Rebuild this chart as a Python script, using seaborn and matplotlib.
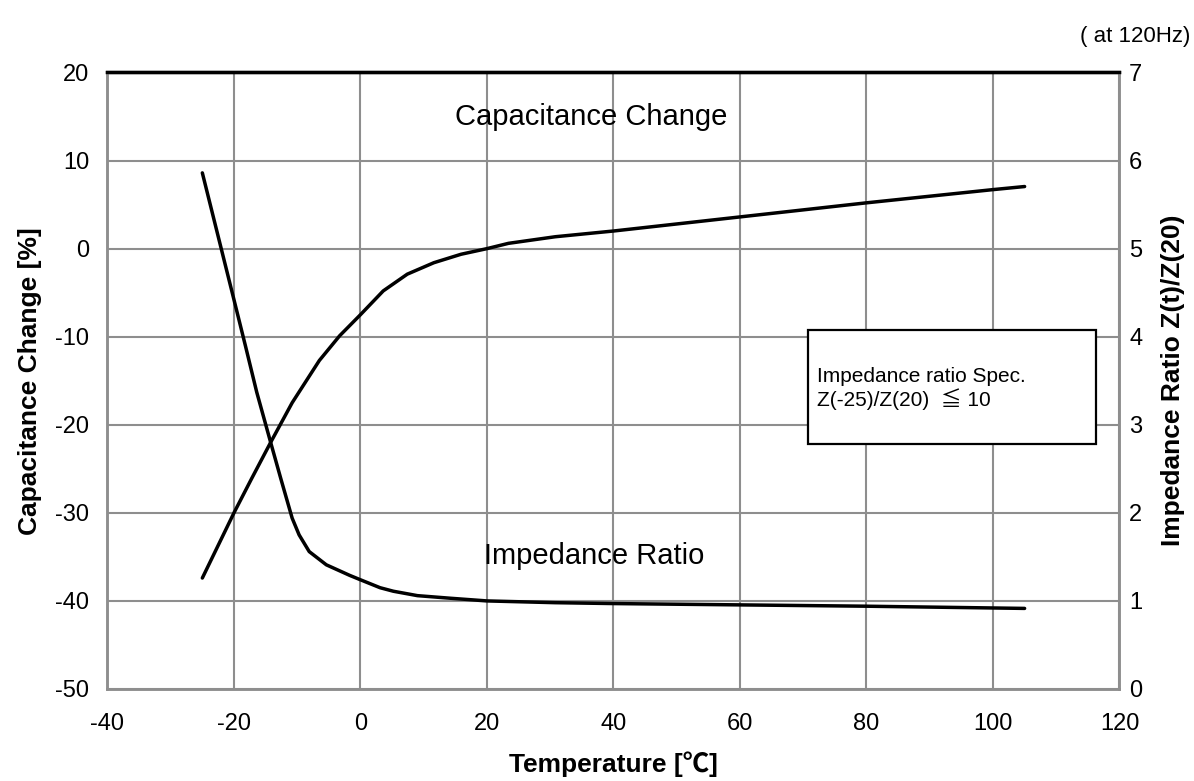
import matplotlib
matplotlib.use("Agg")
import matplotlib.pyplot as plt
import seaborn as sns
import pandas as pd
from matplotlib.patches import Rectangle

# Capacitance change [%] vs temperature
cap_temp = [-25, -20, -17.2, -14.2, -10.8, -6.5, -3.3, 0, 3.6, 7.4, 11.6, 15.9, 20, 23.4, 30.8, 40, 60, 80, 100, 105]
cap_change = [-37.4, -30.0, -26.1, -22.0, -17.5, -12.7, -9.9, -7.5, -4.8, -2.9, -1.6, -0.64, 0.0, 0.6, 1.35, 2.0, 3.6, 5.2, 6.7, 7.05]

# Impedance ratio Z(t)/Z(20) vs temperature
imp_temp = [-25, -22.5, -20, -18.2, -16.4, -14.2, -12.6, -10.8, -9.7, -8.1, -5.4, -1.7, 0, 3.1, 5.2, 9, 14.3, 20, 30.8, 40, 80, 105]
imp_ratio = [5.86, 5.14, 4.42, 3.90, 3.37, 2.80, 2.39, 1.94, 1.75, 1.56, 1.41, 1.29, 1.24, 1.15, 1.11, 1.06, 1.03, 1.00, 0.98, 0.97, 0.94, 0.915]

x_ticks = [-40, -20, 0, 20, 40, 60, 80, 100, 120]
left_ticks = [-50, -40, -30, -20, -10, 0, 10, 20]
right_ticks = [0, 1, 2, 3, 4, 5, 6, 7]

sns.set_theme(style="white")
plt.rcParams['font.family'] = ['Liberation Sans', 'DejaVu Sans']
plt.rcParams['axes.unicode_minus'] = False
for k in ('text.color', 'axes.labelcolor', 'xtick.color', 'ytick.color'):
    plt.rcParams[k] = 'black'

fig = plt.figure(figsize=(11.94, 7.81), dpi=100)
ax = fig.add_axes([0.090, 0.1178, 0.8476, 0.7894])
ax2 = ax.twinx()

grid_c = '#8e8e8e'
for x in x_ticks:
    ax.axvline(x, color=grid_c, lw=1.5, zorder=0)
for y in left_ticks:
    ax.axhline(y, color=grid_c, lw=1.5, zorder=0)

df_cap = pd.DataFrame({'t': cap_temp, 'c': cap_change})
df_imp = pd.DataFrame({'t': imp_temp, 'z': imp_ratio})
sns.lineplot(data=df_cap, x='t', y='c', ax=ax, color='black', lw=2.5, sort=False)
sns.lineplot(data=df_imp, x='t', y='z', ax=ax2, color='black', lw=2.5, sort=False)
for a in (ax, ax2):
    for ln in a.get_lines():
        ln.set_solid_joinstyle('round')

ax.set_xlim(-40, 120)
ax.set_ylim(-50, 20)
ax2.set_ylim(0, 7)
ax.set_xticks(x_ticks)
ax.set_yticks(left_ticks)
ax2.set_yticks(right_ticks)
ax.tick_params(axis='x', labelsize=17, length=0, pad=17)
ax.tick_params(axis='y', labelsize=17, length=0, pad=13)
ax2.tick_params(axis='y', labelsize=17, length=0, pad=7)

ax.set_xlabel('Temperature [\u2103]', fontsize=19, fontweight='bold', labelpad=12,
              family=['Liberation Sans', 'Noto Sans CJK JP', 'DejaVu Sans'])
ax.set_ylabel('Capacitance Change [%]', fontsize=19, fontweight='bold', labelpad=10)
ax2.set_ylabel('Impedance Ratio Z(t)/Z(20)', fontsize=19, fontweight='bold', labelpad=13)

for a in (ax, ax2):
    for s in ('left', 'right', 'bottom'):
        a.spines[s].set_color(grid_c)
        a.spines[s].set_linewidth(1.8)
    a.spines['top'].set_color('black')
    a.spines['top'].set_linewidth(2.4)

ax.text(36.5, 14.9, 'Capacitance Change', fontsize=21, ha='center', va='center')
ax.text(37, -34.9, 'Impedance Ratio', fontsize=21, ha='center', va='center')

box = Rectangle((70.8, -22.2), 45.5, 13.0, facecolor='white', edgecolor='black', lw=1.6, zorder=5)
ax.add_patch(box)
ax.text(72.1, -15.9, 'Impedance ratio Spec.\nZ(-25)/Z(20)  \u2266 10', fontsize=15, ha='left', va='center',
        zorder=6, linespacing=1.1, family=['Liberation Sans', 'Noto Sans CJK JP', 'DejaVu Sans'])

fig.text(0.997, 0.953, '( at 120Hz)', fontsize=16, ha='right', va='center')

fig.savefig('out.png', dpi=100)
